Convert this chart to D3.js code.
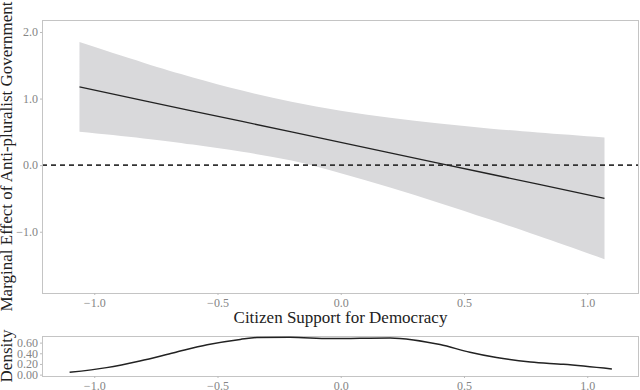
<!DOCTYPE html>
<html>
<head>
<meta charset="utf-8">
<script src="https://cdn.jsdelivr.net/npm/d3@7"></script>
<style>
  body { margin: 0; background: #fff; }
  svg { display: block; }
  .tick-label { font-family: "Liberation Serif", "DejaVu Serif", serif; font-size: 12px; fill: #858585; }
  .axis-title { font-family: "Liberation Serif", "DejaVu Serif", serif; font-size: 17px; fill: #222; }
</style>
</head>
<body>
<svg id="chart" width="640" height="390"></svg>
<script>
// Marginal effect estimate and 95% band
const supportX = [-1.06, -0.8, -0.6, -0.4, -0.2, 0.0, 0.2, 0.4, 0.6, 0.8, 1.07];
const effect   = [1.174, 0.970, 0.813, 0.656, 0.499, 0.342, 0.185, 0.028, -0.129, -0.286, -0.498];
const upperCI  = [1.848, 1.538, 1.317, 1.120, 0.953, 0.818, 0.711, 0.624, 0.552, 0.490, 0.416];
const lowerCI  = [0.500, 0.402, 0.309, 0.200, 0.070, -0.120, -0.335, -0.568, -0.810, -1.062, -1.412];

// Density of citizen support
const densX = [-1.10, -0.95, -0.815, -0.677, -0.542, -0.408, -0.34, -0.206, -0.043, 0.2, 0.295, 0.403, 0.524, 0.632, 0.77, 0.903, 1.10];
const densY = [0.043, 0.131, 0.255, 0.41, 0.56, 0.66, 0.695, 0.70, 0.675, 0.687, 0.65, 0.563, 0.42, 0.32, 0.237, 0.193, 0.105];

const xTicks = [-1.0, -0.5, 0.0, 0.5, 1.0];
const yTicks = [2.0, 1.0, 0.0, -1.0];
const densTicks = [0.0, 0.2, 0.4, 0.6];

const svg = d3.select('#chart');

const main = { left: 42, right: 639, top: 20, bottom: 293 };
const dens = { left: 42, right: 639, top: 336, bottom: 376 };

const xScale = d3.scaleLinear().domain([-1.212, 1.21]).range([main.left, main.right]);
const yScale = d3.scaleLinear().domain([-1.92, 2.18]).range([main.bottom, main.top]);
const dyScale = d3.scaleLinear().domain([-0.026, 0.724]).range([dens.bottom, dens.top]);

const rows = supportX.map((x, i) => ({ x, est: effect[i], lo: lowerCI[i], hi: upperCI[i] }));

// Ribbon
svg.append('path')
    .datum(rows)
    .attr('d', d3.area()
        .x(d => xScale(d.x))
        .y0(d => yScale(d.lo))
        .y1(d => yScale(d.hi))
        .curve(d3.curveNatural))
    .style('fill', '#d9d9db');

// Zero line
svg.append('line')
    .attr('x1', main.left)
    .attr('x2', main.right)
    .attr('y1', yScale(0))
    .attr('y2', yScale(0))
    .style('stroke', '#333')
    .style('stroke-width', 1.6)
    .style('stroke-dasharray', '5,4');

// Estimate line
svg.append('path')
    .datum(rows)
    .attr('d', d3.line().x(d => xScale(d.x)).y(d => yScale(d.est)))
    .style('fill', 'none')
    .style('stroke', '#222')
    .style('stroke-width', 1.3);

// Panel borders
[main, dens].forEach(p => {
    svg.append('rect')
        .attr('x', p.left + 0.5)
        .attr('y', p.top + 0.5)
        .attr('width', p.right - p.left - 1)
        .attr('height', p.bottom - p.top)
        .style('fill', 'none')
        .style('stroke', '#c4c4c4')
        .style('stroke-width', 1);
});

// Axes (small gray ticks, gray serif labels)
function styleAxis(g) {
    g.select('.domain').remove();
    g.selectAll('.tick line').attr('stroke', '#bbb');
    g.selectAll('.tick text').attr('class', 'tick-label').attr('fill', null);
}

svg.append('g')
    .attr('transform', `translate(0,${main.bottom})`)
    .call(d3.axisBottom(xScale).tickValues(xTicks).tickFormat(d3.format('.1f')).tickSize(2).tickPadding(3))
    .call(styleAxis);

svg.append('g')
    .attr('transform', `translate(${main.left},0)`)
    .call(d3.axisLeft(yScale).tickValues(yTicks).tickFormat(d3.format('.1f')).tickSize(2).tickPadding(2))
    .call(styleAxis);

svg.append('g')
    .attr('transform', `translate(0,${dens.bottom})`)
    .call(d3.axisBottom(xScale).tickValues(xTicks).tickFormat(d3.format('.1f')).tickSize(2).tickPadding(3))
    .call(styleAxis);

svg.append('g')
    .attr('transform', `translate(${dens.left},0)`)
    .call(d3.axisLeft(dyScale).tickValues(densTicks).tickFormat(d3.format('.2f')).tickSize(2).tickPadding(2))
    .call(styleAxis);

// Density curve
svg.append('path')
    .datum(densX.map((x, i) => ({ x, y: densY[i] })))
    .attr('d', d3.line().x(d => xScale(d.x)).y(d => dyScale(d.y)).curve(d3.curveMonotoneX))
    .style('fill', 'none')
    .style('stroke', '#222')
    .style('stroke-width', 1.5);

// Titles
svg.append('text')
    .attr('class', 'axis-title')
    .attr('x', (main.left + main.right) / 2)
    .attr('y', 323)
    .attr('text-anchor', 'middle')
    .text('Citizen Support for Democracy');

svg.append('text')
    .attr('class', 'axis-title')
    .attr('transform', `translate(12,${(main.top + main.bottom) / 2}) rotate(-90)`)
    .attr('text-anchor', 'middle')
    .text('Marginal Effect of Anti-pluralist Government');

svg.append('text')
    .attr('class', 'axis-title')
    .attr('transform', `translate(12,${(dens.top + dens.bottom) / 2}) rotate(-90)`)
    .attr('text-anchor', 'middle')
    .text('Density');
</script>
</body>
</html>
